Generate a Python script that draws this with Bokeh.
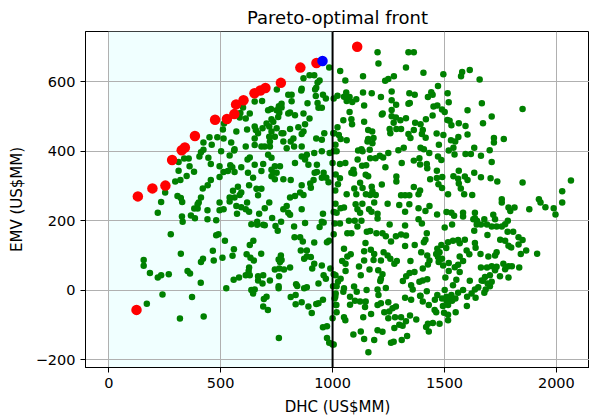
from bokeh.plotting import figure
from bokeh.embed import file_html
from bokeh.resources import INLINE
from bokeh.models import Range1d, Span, FixedTicker

title_text = "Pareto-optimal front"
x_label = "DHC (US$MM)"
y_label = "EMV (US$MM)"
x_ticks = [0, 500, 1000, 1500, 2000]
y_ticks = [-200, 0, 200, 400, 600]

red_dhc = [124, 130, 195, 253, 283, 326, 340, 385, 475, 528, 561, 569, 602, 651, 677, 700, 769, 856, 928, 1110]
red_emv = [-57, 270, 293, 301, 375, 403, 411, 444, 491, 493, 507, 535, 547, 567, 575, 582, 597, 641, 654, 701]
blue_dhc = [955]
blue_emv = [660]

green_upper_left = [
(985,641),(870,610),(897,619),(918,619),(942,604),(933,598),(927,583),(922,578),(862,580),(860,575),(751,578),
(802,563),(817,563),(817,544),(925,559),(957,563),(970,552),(1005,552),(933,539),(937,525),(952,525),(888,538),
(772,537),(760,530),(772,526),(652,543),(685,545),(630,509),(600,526),(588,510),(712,518),(725,522),(750,518),
(762,511),(757,499),(727,492),(735,485),(705,480),(810,512),(802,509),(832,504),(870,509),(897,494),(877,478),
(847,469),(870,457),(862,450),(810,464),(780,452),(612,494),(585,497),(515,480),(510,463),(570,457),(618,463),
(652,471),(657,461),(667,452),(687,466),(717,471),(750,466),(727,457),(717,442),(720,428),(742,442),(772,452),
(780,428),(795,409),(825,437),(813,428),(828,414),(862,414),(927,437),(952,433),(963,452),(1008,452),(652,437),
(652,418),(612,414),(682,414),(697,414),(720,414),(547,425),(562,406),(560,402),(540,388),(502,400),(513,437),
(485,440),(450,440),(460,419),(423,425),(423,404),(412,397),(405,385),(445,381),(456,363),(337,379),(357,379),
(312,369),(361,357),(312,344),(381,341),(348,329),(297,313),(320,317),(252,281),(495,357),(543,360),(552,354),
(532,343),(513,340),(495,326),(562,340),(592,354),(456,317),(442,302),(420,293),(630,382),(620,376),(652,361),
(690,363),(622,338),(645,324),(682,343),(712,390),(727,381),(727,347),(742,357),(765,357),(735,338),(750,338),
(727,328),(742,319),(780,319),(813,317),(832,366),(862,385),(885,390),(877,376),(930,361),(892,361),(918,395),
(952,400),(987,395),(1005,400),(930,340),(920,338),(960,338),(972,324),(952,324),(915,317),(900,307),(862,302),
(903,295),(982,311),(627,302),(577,298),(555,286),(592,281),(585,274),(660,292),(682,292),(667,273),(540,267),
(562,267),(412,267),(307,271),(322,265),(810,267),(832,271),(855,281),(870,274),
]
green_lower_left = [
(234,254),(328,254),(402,252),(495,252),(540,255),(618,252),(219,223),(397,247),(382,235),(397,235),(441,230),
(495,230),(513,233),(570,242),(592,239),(612,233),(627,226),(573,220),(672,220),(697,236),(717,252),(780,233),
(795,242),(802,223),(810,217),(862,233),(957,220),(1005,225),(327,212),(330,197),(367,215),(385,207),(441,204),
(480,201),(730,208),(770,197),(637,190),(663,197),(663,188),(690,188),(697,187),(745,185),(755,171),(828,183),
(877,193),(942,182),(952,197),(960,195),(277,161),(480,158),(490,161),(519,142),(630,130),(646,142),(830,152),
(855,152),(867,140),(918,137),(975,138),(984,142),(1005,161),(322,105),(465,113),(469,85),(412,81),(421,90),
(508,93),(553,99),(559,118),(616,103),(633,93),(648,85),(681,105),(156,87),(156,70),(184,49),(219,36),(234,43),
(268,46),(352,55),(363,48),(411,21),(769,100),(759,88),(772,87),(765,81),(742,59),(762,62),(783,59),(810,65),
(761,40),(858,114),(885,114),(873,90),(885,97),(903,95),(918,76),(909,62),(952,71),(990,62),(960,43),(970,33),
(1005,46),(937,19),(627,65),(625,55),(612,43),(630,43),(582,36),(558,30),(667,40),(690,43),(667,28),(687,19),
(720,28),(759,11),(759,5),(525,5),(637,0),(652,2),(645,-10),(837,17),(842,12),(873,5),(885,8),(1002,11),(240,-13),
(372,-20),(170,-39),(318,-82),(424,-76),(705,-19),(693,-26),(690,-47),(711,-57),(813,-20),(835,-14),(835,-41),
(862,-35),(892,-47),(907,-66),(927,-40),(937,-38),(957,-28),(1012,-19),(1017,-43),(1000,-81),(957,-107),(975,-104),
(760,-138),(975,-138),(985,-152),(1005,-157),
]
green_upper_right = [
(1201,685),(1339,685),(1363,685),(1205,653),(1328,641),(1034,631),(1136,616),(1057,604),(1235,603),(1249,608),
(1274,616),(1406,626),(1495,622),(1579,628),(1574,616),(1613,634),(1657,607),(1471,588),(1136,569),(1175,567),
(1264,572),(1343,567),(1367,563),(1441,570),(1447,563),(1426,556),(1514,567),(1022,560),(1061,569),(1051,557),
(1076,556),(1063,545),(1088,542),(1106,550),(1216,556),(1264,547),(1284,534),(1339,537),(1345,539),(1519,541),
(1667,538),(1849,522),(1141,532),(1076,513),(1264,519),(1224,509),(1220,506),(1451,529),(1468,532),(1489,520),
(1501,513),(1603,518),(1711,500),(1447,503),(1417,492),(1328,495),(1303,489),(1264,501),(1283,497),(1273,482),
(1369,482),(1393,478),(1513,490),(1523,488),(1531,475),(1564,481),(1594,473),(1672,481),(1048,489),(1084,492),
(1087,478),(1141,485),(1022,469),(1159,461),(1177,457),(1255,464),(1258,452),(1285,464),(1306,464),(1363,461),
(1403,461),(1399,450),(1416,439),(1339,450),(1348,438),(1465,451),(1495,447),(1603,448),(1562,441),(1529,432),
(1548,428),(1475,419),(1721,438),(1721,425),(1765,435),(1003,452),(1028,447),(1036,435),(1063,432),(1159,435),
(1183,438),(1156,428),(1178,423),(1013,419),(1018,400),(1114,402),(1129,406),(1134,400),(1166,404),(1249,395),
(1294,403),(1318,410),(1393,410),(1408,406),(1432,395),(1519,402),(1540,410),(1545,391),(1633,410),(1594,392),
(1618,392),(1663,387),(1702,403),(1112,376),(1168,380),(1192,380),(1211,387),(1226,382),(1309,366),(1363,373),
(1388,380),(1391,362),(1421,363),(1423,351),(1471,385),(1486,375),(1711,369),(1000,366),(1033,363),(1057,366),
(1132,358),(1150,360),(1236,354),(1466,344),(1564,344),(1093,347),(1084,338),(1096,336),(1148,332),(1159,328),
(1285,327),(1285,313),(1014,333),(1033,322),(1436,319),(1466,323),(1490,326),(1540,328),(1561,321),(1591,327),
(1603,317),(1633,338),(1663,325),(1706,322),(1736,313),(1849,310),(2065,316),(2026,285),(1024,305),(1123,309),
(1220,304),(1473,305),(1489,294),(1564,307),(1573,293),(1363,297),(1097,293),(1134,294),(1175,298),(1178,284),
(1391,287),(1384,276),(1012,287),(1063,276),(1106,276),(1149,276),(1168,274),(1193,274),(1306,273),(1324,273),
(1343,273),(1516,276),(1588,276),(1624,274),(1756,262),(1922,262),
]
green_lower_right = [
(2026,252),(1988,236),(1996,218),(1951,239),(1929,252),(1879,233),(1813,238),(1786,238),(1794,228),(1756,252),
(1013,249),(1051,238),(1036,236),(1018,223),(1103,247),(1133,249),(1186,252),(1246,249),(1298,245),(1343,247),
(1384,236),(1433,242),(1415,228),(1324,226),(1123,223),(1163,233),(1174,226),(1201,220),(1201,206),(1111,233),
(1467,218),(1509,225),(1531,223),(1543,214),(1583,223),(1583,212),(1636,223),(1636,207),(1678,204),(1718,217),
(1726,204),(1009,192),(1033,192),(1073,200),(1099,200),(1129,200),(1111,183),(1255,189),(1324,186),(1384,204),
(1399,192),(1501,180),(1534,189),(1629,204),(1645,200),(1644,189),(1663,189),(1690,189),(1711,183),(1733,183),
(1756,183),(1771,190),(1783,200),(1633,171),(1066,164),(1084,164),(1153,168),(1168,170),(1196,164),(1223,164),
(1238,155),(1283,155),(1306,160),(1328,157),(1421,164),(1261,140),(1415,145),(1408,138),(1324,127),(1367,130),
(1147,136),(1692,159),(1782,168),(1807,168),(1749,145),(1771,142),(1831,152),(1849,144),(1786,128),(1798,123),
(1831,131),(1865,114),(1841,104),(1914,105),(1516,138),(1538,142),(1561,144),(1591,145),(1568,135),(1636,136),
(1639,122),(1486,130),(1508,121),(1468,119),(1478,109),(1463,104),(1471,95),(1489,90),(1474,81),(1494,71),(1519,78),
(1599,114),(1611,103),(1568,97),(1583,84),(1561,73),(1546,66),(1568,52),(1519,55),(1504,36),(1553,30),(1538,14),
(1613,27),(1661,104),(1696,97),(1733,109),(1726,100),(1663,65),(1690,65),(1711,69),(1733,67),(1763,76),(1786,69),
(1801,69),(1834,65),(1771,60),(1748,40),(1786,36),(1726,57),(1703,43),(1681,38),(1673,27),(1711,24),(1693,19),
(1703,11),(1684,2),(1678,-8),(1666,28),(1651,8),(1636,2),(1621,-10),(1639,-22),(1601,-19),(1583,0),(1561,-8),
(1509,-19),(1531,-14),(1519,-27),(1549,-24),(1534,-31),(1509,-31),(1489,-24),(1468,-14),(1501,0),(1516,-43),
(1600,-46),(1550,-64),(1493,-46),(1498,-65),(1516,-71),(1516,-87),(1456,-57),(1463,-64),(1430,-43),(1457,-28),
(1403,-33),(1393,-17),(1421,-3),(1051,119),(1081,103),(1066,97),(1043,84),(1058,76),(1058,55),(1118,68),(1165,59),
(1126,43),(1141,85),(1141,112),(1171,116),(1186,104),(1183,87),(1216,85),(1228,109),(1246,100),(1258,90),(1287,84),
(1276,76),(1348,84),(1396,109),(1423,100),(1433,85),(1426,74),(1403,62),(1366,52),(1344,49),(1329,40),(1314,26),
(1351,14),(1358,2),(1388,24),(1403,28),(1423,31),(1204,57),(1223,46),(1216,33),(1213,26),(1238,6),(1201,2),(1205,-14),
(1013,43),(1036,33),(1024,24),(1018,11),(1051,5),(1048,-5),(1096,10),(1108,-5),(1152,0),(1078,-19),(1078,-42),
(1100,-31),(1123,-33),(1148,-33),(1145,-49),(1014,-10),(1009,-24),(1014,-43),(1018,-64),(1201,-43),(1216,-38),
(1249,-35),(1283,-47),(1268,-52),(1253,-62),(1231,-64),(1324,-22),(1351,-28),(1391,-16),(1051,-78),(1057,-87),
(1137,-78),(1172,-69),(1249,-81),(1279,-78),(1306,-78),(1346,-73),(1374,-85),(1328,-90),(1298,-100),(1276,-109),
(1313,-103),(1426,-97),(1418,-106),(1430,-119),(1448,-95),(1478,-97),(1093,-128),(1126,-119),(1201,-116),(1223,-120),
(1141,-141),(1186,-144),(1261,-152),(1273,-149),(1309,-144),(1333,-132),(1160,-179),(1000,-157),
]

green_points = green_upper_left + green_lower_left + green_upper_right + green_lower_right
green_dhc = [pt[0] for pt in green_points]
green_emv = [pt[1] for pt in green_points]

p = figure(width=589, height=418, output_backend="svg", toolbar_location=None,
           x_range=Range1d(-104, 2148), y_range=Range1d(-223, 745),
           min_border_left=85, min_border_right=0, min_border_top=31, min_border_bottom=50)

p.title.text = title_text
p.title.text_font = "DejaVu Sans"
p.title.text_font_size = "18px"
p.title.text_font_style = "normal"
p.title.text_color = "black"
p.title.align = "center"
p.title_location = "above"
p.title.standoff = 8

for ax, lab, ticks in ((p.xaxis[0], x_label, x_ticks), (p.yaxis[0], y_label, y_ticks)):
    ax.axis_label = lab
    ax.axis_label_text_font = "DejaVu Sans"
    ax.axis_label_text_font_size = "15px"
    ax.axis_label_text_font_style = "normal"
    ax.axis_label_text_color = "black"
    ax.axis_label_standoff = 7
    ax.major_label_text_font = "DejaVu Sans"
    ax.major_label_text_font_size = "14.5px"
    ax.major_label_text_color = "black"
    ax.ticker = FixedTicker(ticks=ticks)
    ax.minor_tick_line_color = None
    ax.major_tick_in = 0
    ax.major_tick_out = 5
    ax.major_tick_line_color = "black"
    ax.axis_line_color = "black"

p.yaxis[0].major_label_orientation = "horizontal"
p.outline_line_color = "black"
p.outline_line_alpha = 1
p.outline_line_width = 1

p.xgrid.grid_line_color = "#b0b0b0"
p.ygrid.grid_line_color = "#b0b0b0"
p.xgrid.grid_line_width = 1
p.ygrid.grid_line_width = 1
p.background_fill_color = "white"
p.border_fill_color = "white"

p.quad(left=[0], right=[1000], bottom=[-223], top=[745], fill_color="#f0ffff",
       line_color=None, level="image")
p.scatter(green_dhc, green_emv, size=6.5, fill_color="green", line_color=None)
p.scatter(red_dhc, red_emv, size=10.5, fill_color="red", line_color=None)
p.scatter(blue_dhc, blue_emv, size=10.5, fill_color="blue", line_color=None)
p.add_layout(Span(location=1000, dimension="height", line_color="black", line_width=2))

open("out.html", "w").write(file_html(p, INLINE))
